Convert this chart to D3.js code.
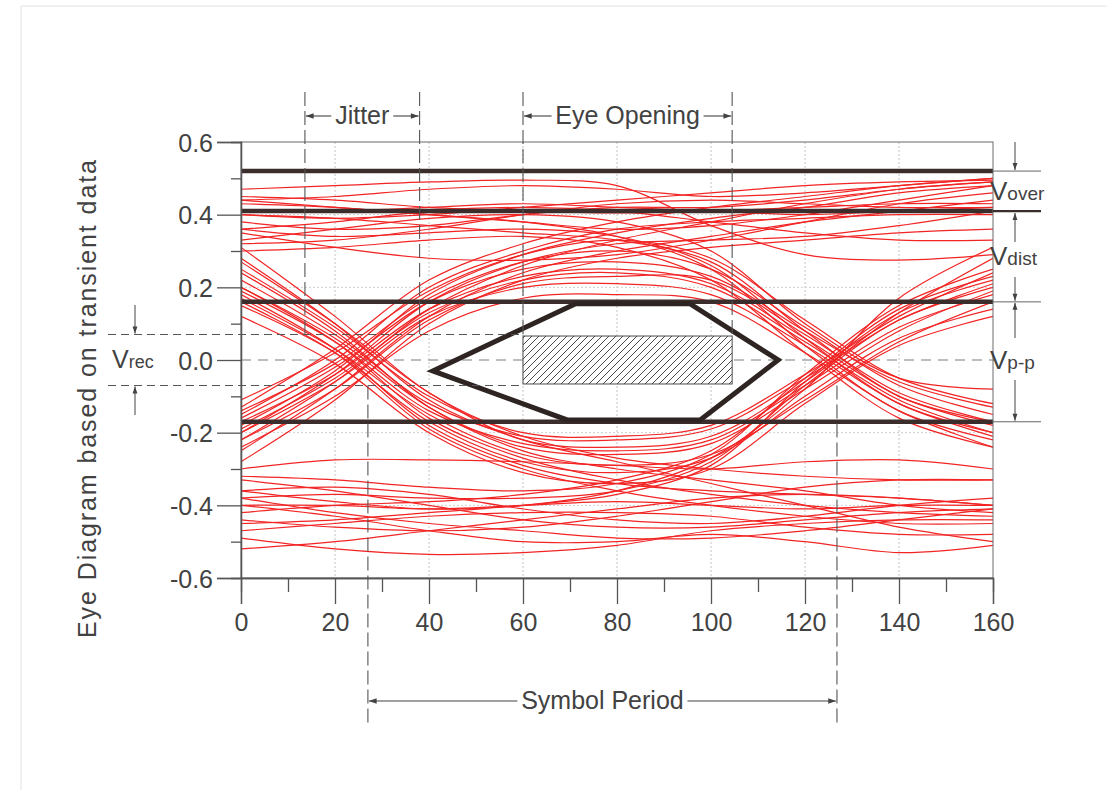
<!DOCTYPE html>
<html>
<head>
<meta charset="utf-8">
<script src="https://cdn.jsdelivr.net/npm/d3@7"></script>
<style>
  body { margin: 0; background: #fff; }
  svg { display: block; font-family: "Liberation Sans", Arial, Helvetica, sans-serif; }
</style>
</head>
<body>
<svg id="chart" width="1107" height="790"></svg>
<script>
// ---- sample positions (time axis) shared by every trace ----
const sampleX = [0, 20, 40, 60, 80, 100, 120, 140, 160];

// ---- transient traces, voltage at each sample position ----
const steadyHigh = [
  [0.47, 0.48, 0.49, 0.495, 0.48, 0.37, 0.29, 0.275, 0.29],
  [0.35, 0.31, 0.28, 0.275, 0.29, 0.33, 0.38, 0.43, 0.46],
  [0.41, 0.41, 0.42, 0.43, 0.42, 0.41, 0.40, 0.41, 0.42],
  [0.44, 0.45, 0.47, 0.48, 0.47, 0.45, 0.46, 0.48, 0.50],
  [0.38, 0.36, 0.37, 0.40, 0.42, 0.42, 0.44, 0.47, 0.49],
  [0.43, 0.42, 0.40, 0.38, 0.36, 0.37, 0.40, 0.44, 0.48],
  [0.32, 0.33, 0.36, 0.40, 0.43, 0.44, 0.43, 0.42, 0.42],
  [0.45, 0.44, 0.42, 0.41, 0.405, 0.41, 0.42, 0.43, 0.43],
  [0.40, 0.39, 0.40, 0.42, 0.44, 0.46, 0.48, 0.49, 0.495],
  [0.36, 0.38, 0.41, 0.42, 0.41, 0.38, 0.35, 0.33, 0.33]
];
const risingStayHigh = [
  [-0.18, -0.03, 0.18, 0.29, 0.35, 0.39, 0.42, 0.46, 0.48],
  [-0.22, -0.06, 0.14, 0.26, 0.33, 0.38, 0.43, 0.47, 0.49],
  [-0.15, 0.00, 0.20, 0.30, 0.36, 0.38, 0.39, 0.40, 0.40],
  [-0.25, -0.08, 0.12, 0.24, 0.30, 0.34, 0.38, 0.41, 0.44],
  [-0.20, -0.04, 0.16, 0.27, 0.32, 0.33, 0.34, 0.37, 0.41],
  [-0.28, -0.11, 0.10, 0.22, 0.28, 0.31, 0.33, 0.35, 0.36],
  [-0.13, 0.03, 0.22, 0.32, 0.38, 0.42, 0.45, 0.48, 0.50]
];
const fallingStayLow = [
  [0.20, 0.05, -0.16, -0.27, -0.33, -0.37, -0.40, -0.42, -0.43],
  [0.24, 0.08, -0.13, -0.25, -0.30, -0.33, -0.36, -0.40, -0.42],
  [0.16, 0.02, -0.19, -0.30, -0.36, -0.40, -0.43, -0.45, -0.45],
  [0.28, 0.10, -0.11, -0.22, -0.28, -0.34, -0.40, -0.46, -0.50],
  [0.18, 0.03, -0.18, -0.29, -0.34, -0.36, -0.37, -0.38, -0.40],
  [0.31, 0.12, -0.09, -0.21, -0.27, -0.30, -0.32, -0.33, -0.33]
];
const humps = [
  [-0.17, -0.04, 0.14, 0.23, 0.25, 0.21, 0.06, -0.10, -0.18],
  [-0.20, -0.06, 0.12, 0.20, 0.21, 0.18, 0.04, -0.12, -0.21],
  [-0.14, -0.01, 0.17, 0.27, 0.30, 0.25, 0.09, -0.07, -0.15],
  [-0.24, -0.10, 0.08, 0.17, 0.18, 0.16, 0.02, -0.14, -0.24],
  [-0.11, 0.02, 0.19, 0.29, 0.33, 0.28, 0.11, -0.05, -0.12],
  [-0.19, -0.05, 0.13, 0.22, 0.24, 0.20, 0.05, -0.11, -0.20],
  [-0.16, -0.02, 0.16, 0.25, 0.27, 0.23, 0.08, -0.06, -0.13],
  [-0.22, -0.08, 0.11, 0.21, 0.23, 0.22, 0.07, -0.09, -0.17]
];
const dips = [
  [0.19, 0.05, -0.14, -0.23, -0.25, -0.22, -0.07, 0.09, 0.18],
  [0.22, 0.07, -0.12, -0.21, -0.22, -0.19, -0.05, 0.11, 0.21],
  [0.15, 0.02, -0.17, -0.28, -0.31, -0.27, -0.10, 0.06, 0.14],
  [0.25, 0.09, -0.10, -0.20, -0.21, -0.18, -0.04, 0.12, 0.24],
  [0.12, -0.01, -0.20, -0.31, -0.34, -0.30, -0.12, 0.04, 0.12],
  [0.20, 0.06, -0.13, -0.24, -0.26, -0.23, -0.08, 0.08, 0.19],
  [0.17, 0.03, -0.15, -0.26, -0.29, -0.26, -0.11, 0.05, 0.16],
  [0.27, 0.10, -0.09, -0.22, -0.24, -0.21, -0.06, 0.13, 0.28]
];
const highThenFall = [
  [0.36, 0.34, 0.35, 0.36, 0.34, 0.26, 0.06, -0.12, -0.20],
  [0.44, 0.42, 0.40, 0.38, 0.34, 0.25, 0.04, -0.14, -0.22],
  [0.30, 0.31, 0.33, 0.34, 0.31, 0.22, 0.02, -0.16, -0.24],
  [0.40, 0.39, 0.37, 0.35, 0.33, 0.27, 0.08, -0.10, -0.17],
  [0.33, 0.36, 0.39, 0.40, 0.38, 0.30, 0.10, -0.05, -0.08]
];
const lowThenRise = [
  [-0.38, -0.37, -0.38, -0.38, -0.36, -0.28, -0.07, 0.11, 0.20],
  [-0.45, -0.44, -0.42, -0.40, -0.37, -0.29, -0.06, 0.13, 0.22],
  [-0.32, -0.33, -0.35, -0.36, -0.34, -0.26, -0.04, 0.15, 0.25],
  [-0.42, -0.40, -0.39, -0.37, -0.33, -0.25, -0.05, 0.14, 0.23],
  [-0.36, -0.39, -0.41, -0.40, -0.36, -0.27, -0.08, 0.17, 0.31]
];
const steadyLow = [
  [-0.30, -0.275, -0.275, -0.28, -0.29, -0.30, -0.28, -0.275, -0.30],
  [-0.49, -0.52, -0.535, -0.53, -0.51, -0.47, -0.45, -0.44, -0.44],
  [-0.40, -0.43, -0.47, -0.50, -0.50, -0.48, -0.50, -0.53, -0.51],
  [-0.40, -0.40, -0.41, -0.40, -0.39, -0.40, -0.41, -0.40, -0.40],
  [-0.36, -0.35, -0.37, -0.41, -0.44, -0.45, -0.43, -0.40, -0.38],
  [-0.44, -0.46, -0.47, -0.46, -0.43, -0.39, -0.35, -0.33, -0.33],
  [-0.33, -0.36, -0.40, -0.44, -0.46, -0.46, -0.44, -0.42, -0.41],
  [-0.47, -0.45, -0.43, -0.42, -0.42, -0.43, -0.46, -0.48, -0.48],
  [-0.52, -0.50, -0.47, -0.44, -0.41, -0.38, -0.37, -0.38, -0.40],
  [-0.38, -0.42, -0.45, -0.47, -0.49, -0.49, -0.47, -0.44, -0.41]
];

// ---- reference levels, eye mask and annotation spans ----
const levelLines = [0.52, 0.41, 0.16, -0.17];      // top, overshoot limit, eye top, eye bottom
const maskShape = [[40.8, -0.03], [71.2, 0.155], [95.5, 0.155], [114.3, 0], [97.7, -0.165], [69.4, -0.165]];
const hatchX = [60, 104.5];
const hatchY = [-0.066, 0.066];
const jitterSpan = [13.6, 38];
const eyeSpan = [60, 104.5];
const periodSpan = [27, 126.8];
const vrecSpan = [-0.07, 0.07];

// ---- axis ticks ----
const xMajorTicks = [0, 20, 40, 60, 80, 100, 120, 140, 160];
const xMinorTicks = [10, 30, 50, 70, 90, 110, 130, 150];
const yMajorTicks = [-0.6, -0.4, -0.2, 0, 0.2, 0.4, 0.6];
const yMinorTicks = [-0.5, -0.3, -0.1, 0.1, 0.3, 0.5];
const yGridTicks = [-0.4, -0.2, 0.2, 0.4];
const xGridTicks = [20, 40, 60, 80, 100, 120, 140];

// ---- layout ----
const svg = d3.select("#chart");
const x = d3.scaleLinear().domain([0, 160]).range([241, 993]);
const y = d3.scaleLinear().domain([-0.6, 0.6]).range([578, 142]);
const ink = "#424242";
const dark = "#3a2d2b";

const defs = svg.append("defs");
defs.append("clipPath").attr("id", "plotClip")
  .append("rect").attr("x", x(0)).attr("y", y(0.6))
  .attr("width", x(160) - x(0)).attr("height", y(-0.6) - y(0.6));
defs.append("marker").attr("id", "arrow")
  .attr("viewBox", "0 0 10 10").attr("refX", 10).attr("refY", 5)
  .attr("markerWidth", 8).attr("markerHeight", 7).attr("orient", "auto")
  .append("path").attr("d", "M0,1.5 L10,5 L0,8.5 Z").attr("fill", ink);
const hatch = defs.append("pattern").attr("id", "hatch")
  .attr("patternUnits", "userSpaceOnUse").attr("width", 7).attr("height", 7);
hatch.append("path").attr("d", "M0,7 L7,0 M-2,2 L2,-2 M5,9 L9,5")
  .attr("stroke", "#4a4a4a").attr("stroke-width", 1);

// faint sheet edge
svg.append("path").attr("d", "M21,790 L21,6 L1107,6")
  .attr("fill", "none").attr("stroke", "#e2e2e2").attr("stroke-width", 1);

// ---- grid ----
const grid = svg.append("g");
grid.selectAll(".vg").data(xGridTicks).join("line")
  .attr("x1", d => x(d)).attr("x2", d => x(d)).attr("y1", y(0.6)).attr("y2", y(-0.6))
  .attr("stroke", "#c4c4c4").attr("stroke-width", 1).attr("stroke-dasharray", "2,2");
grid.selectAll(".hg").data(yGridTicks).join("line")
  .attr("x1", x(0)).attr("x2", x(160)).attr("y1", d => y(d)).attr("y2", d => y(d))
  .attr("stroke", "#cfcfcf").attr("stroke-width", 1).attr("stroke-dasharray", "2,2");
grid.append("line")
  .attr("x1", x(0)).attr("x2", 995).attr("y1", y(0)).attr("y2", y(0))
  .attr("stroke", "#a8a8a8").attr("stroke-width", 1.3).attr("stroke-dasharray", "10,7");

// ---- traces ----
const traceLine = d3.line()
  .x((d, i) => x(sampleX[i]))
  .y(d => y(d))
  .curve(d3.curveCatmullRom.alpha(0.5));
const allTraces = [].concat(steadyHigh, risingStayHigh, fallingStayLow, humps, dips,
  highThenFall, lowThenRise, steadyLow);
svg.append("g").attr("clip-path", "url(#plotClip)")
  .selectAll("path").data(allTraces).join("path")
  .attr("d", traceLine)
  .attr("fill", "none").attr("stroke", "#f22424").attr("stroke-width", 1.2);

// ---- hatched receiver window ----
svg.append("rect")
  .attr("x", x(hatchX[0])).attr("y", y(hatchY[1]))
  .attr("width", x(hatchX[1]) - x(hatchX[0])).attr("height", y(hatchY[0]) - y(hatchY[1]))
  .attr("fill", "#fff");
svg.append("rect")
  .attr("x", x(hatchX[0])).attr("y", y(hatchY[1]))
  .attr("width", x(hatchX[1]) - x(hatchX[0])).attr("height", y(hatchY[0]) - y(hatchY[1]))
  .attr("fill", "url(#hatch)").attr("stroke", "#4a4a4a").attr("stroke-width", 1);

// ---- level lines ----
svg.selectAll(".lvl").data(levelLines).join("line")
  .attr("x1", x(0)).attr("x2", x(160)).attr("y1", d => y(d)).attr("y2", d => y(d))
  .attr("stroke", dark).attr("stroke-width", 4.5);

// ---- eye mask ----
svg.append("path")
  .attr("d", d3.line().x(d => x(d[0])).y(d => y(d[1]))(maskShape) + "Z")
  .attr("fill", "none").attr("stroke", "#2e2523").attr("stroke-width", 5)
  .attr("stroke-linejoin", "miter");

// ---- frame ----
svg.append("rect")
  .attr("x", x(0)).attr("y", y(0.6))
  .attr("width", x(160) - x(0)).attr("height", y(-0.6) - y(0.6))
  .attr("fill", "none").attr("stroke", "#6a6a6a").attr("stroke-width", 1);

// ---- axes ----
function styleAxis(g) {
  g.select(".domain").attr("stroke", "#555").attr("stroke-width", 1.3);
  g.selectAll(".tick line").attr("stroke", "#555").attr("stroke-width", 1.3);
  g.selectAll(".tick text").attr("fill", ink).attr("font-size", 25)
    .attr("font-family", '"Liberation Sans", Arial, sans-serif');
}
svg.append("g").attr("transform", `translate(${x(0)},0)`)
  .call(d3.axisLeft(y).tickValues(yMinorTicks).tickSize(10).tickFormat(""))
  .call(styleAxis);
svg.append("g").attr("transform", `translate(${x(0)},0)`)
  .call(d3.axisLeft(y).tickValues(yMajorTicks).tickSize(24).tickPadding(4)
    .tickFormat(d => d.toFixed(1)))
  .call(styleAxis)
  .call(g => g.selectAll(".tick text").attr("dy", "0.36em"));
svg.append("g").attr("transform", `translate(0,${y(-0.6)})`)
  .call(d3.axisBottom(x).tickValues(xMinorTicks).tickSize(14).tickFormat(""))
  .call(styleAxis);
svg.append("g").attr("transform", `translate(0,${y(-0.6)})`)
  .call(d3.axisBottom(x).tickValues(xMajorTicks).tickSize(26).tickPadding(9)
    .tickFormat(d => String(d)))
  .call(styleAxis);

// y title
svg.append("text")
  .attr("transform", "translate(96,399) rotate(-90)")
  .attr("text-anchor", "middle").attr("font-size", 25).attr("fill", ink)
  .attr("textLength", 478).attr("lengthAdjust", "spacing")
  .text("Eye Diagram based on transient data");

// ---- top and bottom span annotations ----
const ann = svg.append("g");
function dashedV(xv, y1, y2) {
  ann.append("line").attr("x1", x(xv)).attr("x2", x(xv)).attr("y1", y1).attr("y2", y2)
    .attr("stroke", "#555").attr("stroke-width", 1.1).attr("stroke-dasharray", "14,5");
}
function spanLabel(span, yText, label, textWidth) {
  const cx = (x(span[0]) + x(span[1])) / 2;
  const ya = yText - 8;
  ann.append("line").attr("x1", cx - textWidth / 2 - 3).attr("x2", x(span[0]) + 1)
    .attr("y1", ya).attr("y2", ya).attr("stroke", ink).attr("stroke-width", 1.1)
    .attr("marker-end", "url(#arrow)");
  ann.append("line").attr("x1", cx + textWidth / 2 + 3).attr("x2", x(span[1]) - 1)
    .attr("y1", ya).attr("y2", ya).attr("stroke", ink).attr("stroke-width", 1.1)
    .attr("marker-end", "url(#arrow)");
  ann.append("text").attr("x", cx).attr("y", yText).attr("text-anchor", "middle")
    .attr("font-size", 25).attr("fill", ink).text(label);
}
dashedV(jitterSpan[0], 92, y(vrecSpan[1]));
dashedV(jitterSpan[1], 92, y(vrecSpan[1]));
dashedV(eyeSpan[0], 92, y(hatchY[1]));
dashedV(eyeSpan[1], 92, y(hatchY[1]));
dashedV(periodSpan[0], y(vrecSpan[0]), 726);
dashedV(periodSpan[1], y(vrecSpan[0]), 726);
spanLabel(jitterSpan, 124, "Jitter", 56);
spanLabel(eyeSpan, 124, "Eye Opening", 146);
spanLabel(periodSpan, 709, "Symbol Period", 164);

// ---- V_rec on the left ----
vrecSpan.forEach(v => {
  ann.append("line").attr("x1", 108).attr("x2", x(hatchX[0]))
    .attr("y1", y(v)).attr("y2", y(v))
    .attr("stroke", "#555").attr("stroke-width", 1.1).attr("stroke-dasharray", "8,5");
});
ann.append("line").attr("x1", 135).attr("x2", 135).attr("y1", 305).attr("y2", y(vrecSpan[1]) - 1)
  .attr("stroke", ink).attr("stroke-width", 1).attr("marker-end", "url(#arrow)");
ann.append("line").attr("x1", 135).attr("x2", 135).attr("y1", 415).attr("y2", y(vrecSpan[0]) + 1)
  .attr("stroke", ink).attr("stroke-width", 1).attr("marker-end", "url(#arrow)");
const vrec = ann.append("text").attr("x", 112).attr("y", 368).attr("fill", ink);
vrec.append("tspan").attr("font-size", 25).text("V");
vrec.append("tspan").attr("font-size", 18).text("rec");

// ---- level annotations on the right ----
levelLines.forEach((v, i) => {
  ann.append("line").attr("x1", x(160)).attr("x2", 1041).attr("y1", y(v)).attr("y2", y(v))
    .attr("stroke", i === 1 ? dark : "#666").attr("stroke-width", i === 1 ? 2.2 : 1);
});
const ax = 1015;
const rightArrows = [
  [142, y(levelLines[0]) - 1],
  [242, y(levelLines[1]) + 2],
  [277, y(levelLines[2]) - 1],
  [338, y(levelLines[2]) + 1],
  [380, y(levelLines[3]) - 1]
];
rightArrows.forEach(a => {
  ann.append("line").attr("x1", ax).attr("x2", ax).attr("y1", a[0]).attr("y2", a[1])
    .attr("stroke", ink).attr("stroke-width", 1).attr("marker-end", "url(#arrow)");
});
const vLabels = [["over", 200], ["dist", 265], ["p-p", 369]];
vLabels.forEach(l => {
  const t = ann.append("text").attr("x", 990).attr("y", l[1]).attr("fill", ink);
  t.append("tspan").attr("font-size", 26).text("V");
  t.append("tspan").attr("font-size", 19).text(l[0]);
});
</script>
</body>
</html>
